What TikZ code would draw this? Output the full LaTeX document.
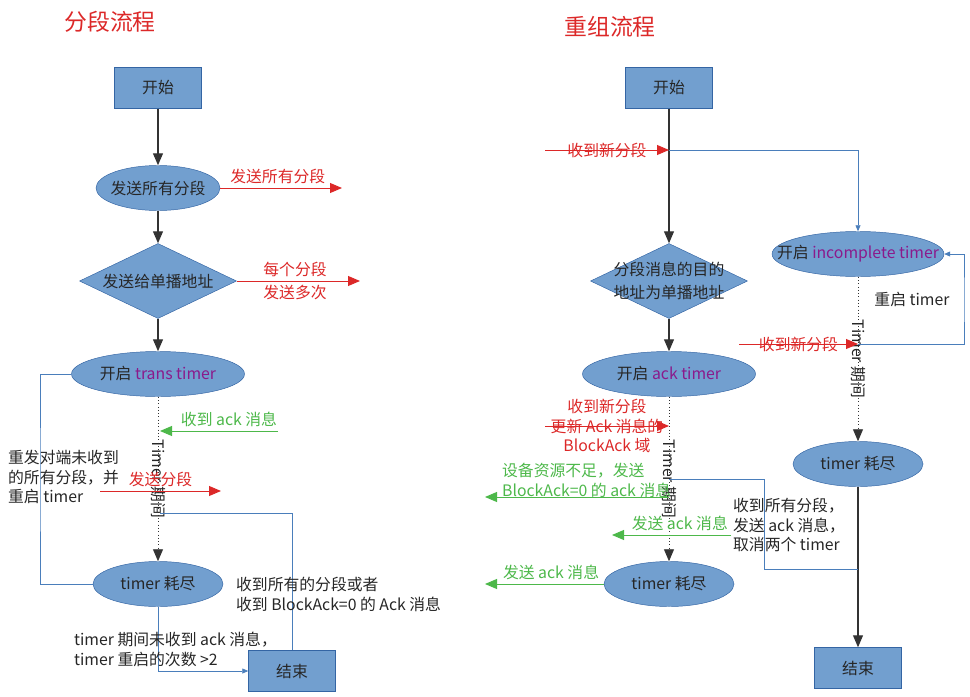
\documentclass[tikz,border=0pt]{standalone}
\usepackage{fontspec}
\setmainfont{Noto Sans CJK SC}
\usepackage{xcolor}
\usetikzlibrary{arrows.meta,shapes.geometric,positioning}

\definecolor{boxfill}{HTML}{729FCF}
\definecolor{boxline}{HTML}{3465A4}
\definecolor{linkblue}{HTML}{4A7EBB}
\definecolor{msgred}{HTML}{DC2828}
\definecolor{msggreen}{HTML}{4DB84A}
\definecolor{timerpurple}{HTML}{8B1A8B}

\begin{document}
\begin{tikzpicture}[x=0.3mm,y=-0.3mm,
    every node/.style={font=\fontsize{13.5pt}{17pt}\selectfont, text=black!85},
    title/.style={font=\fontsize{19.5pt}{22pt}\selectfont, text=msgred},
    box/.style={rectangle, draw=boxline, fill=boxfill, minimum width=26.1mm, minimum height=12.3mm},
    oval/.style={ellipse, draw=boxline, fill=boxfill, minimum height=13.5mm, inner sep=0pt},
    dia/.style={diamond, draw=boxline, fill=boxfill, minimum width=47.1mm, minimum height=22.5mm, inner sep=0pt},
    flow/.style={-{Triangle[length=3.6mm,width=3mm]}, line width=0.9pt, black!80},
    dotflow/.style={-{Triangle[length=3.6mm,width=3mm]}, line width=0.8pt, dotted, black!80},
    redarrow/.style={-{Triangle[length=3.6mm,width=3mm]}, line width=0.8pt, msgred},
    greenarrow/.style={-{Triangle[length=3.6mm,width=3mm]}, line width=0.8pt, msggreen},
    blueline/.style={line width=0.6pt, linkblue},
    bluearrow/.style={blueline, -{Triangle[length=1.8mm,width=1.5mm]}},
    redtext/.style={text=msgred},
    greentext/.style={text=msggreen},
    timerlab/.style={rotate=-90, inner sep=0pt}]
\useasboundingbox (0,0) rectangle (970,697);

% ---- 分段流程 ----
\node[title] (titleL) at (110,22) {分段流程};
\node[box] (startL) at (158,88) {开始};
\node[oval, minimum width=37.2mm, label=center:发送所有分段] (sendL) at (158,188) {};
\node[dia, label=center:发送给单播地址] (uniL) at (158,281) {};
\node[oval, minimum width=51.9mm, label=center:{开启 \textcolor{timerpurple}{trans timer}}] (transL) at (158,374) {};
\node[oval, minimum width=39mm, label=center:timer 耗尽] (expL) at (158,584) {};
\node[box] (endL) at (292,671) {结束};

\coordinate (sendOut) at (342,188);
\coordinate (uniOut) at (360,281);
\coordinate (ackInL) at (278,431);
\coordinate (ackAtL) at (160,431);
\coordinate (segIn) at (100,491);
\coordinate (segOut) at (221,491);
\coordinate (leftRail) at (40,480);
\coordinate (okL) at (160,513);

\draw[flow] (startL) -- (sendL);
\draw[flow] (sendL) -- (uniL);
\draw[flow] (uniL) -- (transL);
\draw[dotflow] (transL) -- node[timerlab]{Timer 期间} (expL);

\draw[redarrow] (sendL.east) -- node[above, redtext, xshift=-1mm]{发送所有分段} (sendOut);
\draw[redarrow] (uniL.east) -- node[redtext, align=center, xshift=-1mm, font=\fontsize{13.5pt}{20pt}\selectfont]{每个分段\\发送多次} (uniOut);
\draw[greenarrow] (ackInL) -- node[above, greentext, xshift=3mm]{收到 ack 消息} (ackAtL);
\draw[redarrow] (segIn) -- node[above, redtext]{发送分段} (segOut);

\draw[blueline] (transL.west) -| (leftRail) |- (expL.west);
\draw[blueline] (okL) -| (endL.north);
\draw[bluearrow] (expL.south) |- (endL.west);

\node[anchor=west, align=left] (resendL) at (4,477) {重发对端未收到\\的所有分段，并\\重启 timer};
\node[anchor=west, align=left] (doneL) at (232,594) {收到所有的分段或者\\收到 BlockAck=0 的 Ack 消息};
\node[anchor=west, align=left] (failL) at (70,649) {timer 期间未收到 ack 消息，\\timer 重启的次数 >2};

% ---- 重组流程 ----
\node[title] (titleR) at (610,27) {重组流程};
\node[box] (startR) at (669,88) {开始};
\node[dia, label={[align=center, font=\fontsize{13.5pt}{19pt}\selectfont]center:分段消息的目的\\地址为单播地址}] (uniR) at (669,281) {};
\node[oval, minimum width=51.9mm, label=center:{开启 \textcolor{timerpurple}{ack timer}}] (ackR) at (669,374) {};
\node[oval, minimum width=39mm, label=center:timer 耗尽] (expR) at (669,584) {};
\node[oval, minimum width=51.6mm, label=center:{开启 \textcolor{timerpurple}{incomplete timer}}] (incR) at (858,254) {};
\node[oval, minimum width=39mm, label=center:timer 耗尽] (expR2) at (858,464) {};
\node[box] (endR) at (858,668) {结束};

\coordinate (newIn) at (545,150);
\coordinate (newAt) at (669,150);
\coordinate (updIn) at (545,426);
\coordinate (updAt) at (669,426);
\coordinate (resAt) at (669,497);
\coordinate (resOut) at (485,497);
\coordinate (doneR) at (669,479);
\coordinate (doneBend) at (764,569);
\coordinate (ackIn) at (731,535);
\coordinate (ackOut) at (612,535);
\coordinate (expOut) at (485,584);
\coordinate (againIn) at (739,344);
\coordinate (againAt) at (858,344);
\coordinate (rightRail) at (964,300);

\draw[flow] (startR) -- (uniR);
\draw[flow] (uniR) -- (ackR);
\draw[dotflow] (ackR) -- node[timerlab]{Timer 期间} (expR);
\draw[dotflow] (incR) -- node[timerlab]{Timer 期间} (expR2);
\draw[flow] (expR2) -- (endR);

\draw[redarrow] (newIn) -- node[redtext]{收到新分段} (newAt);
\draw[bluearrow] (newAt) -| (incR.north);
\draw[redarrow] (updIn) -- node[redtext, align=center]{收到新分段\\更新 Ack 消息的\\BlockAck 域} (updAt);
\draw[greenarrow] (resAt) -- (resOut);
\node[anchor=west, align=left, greentext] (resTxt) at (498,480) {设备资源不足，发送\\BlockAck=0 的 ack 消息};
\draw[blueline] (doneR) -| (doneBend) -- (doneBend -| endR);
\draw[greenarrow] (ackIn) -- node[pos=0.43, above, greentext]{发送 ack 消息} (ackOut);
\node[anchor=west, align=left] (doneTxt) at (729,525) {收到所有分段，\\发送 ack 消息，\\取消两个 timer};
\draw[greenarrow] (expR.west) -- node[above, greentext, xshift=2mm]{发送 ack 消息} (expOut);
\draw[redarrow] (againIn) -- node[redtext]{收到新分段} (againAt);
\draw[bluearrow] (againAt) -| (rightRail) |- (incR.east);
\node (restartTxt) at (912,299) {重启 timer};

\end{tikzpicture}
\end{document}
